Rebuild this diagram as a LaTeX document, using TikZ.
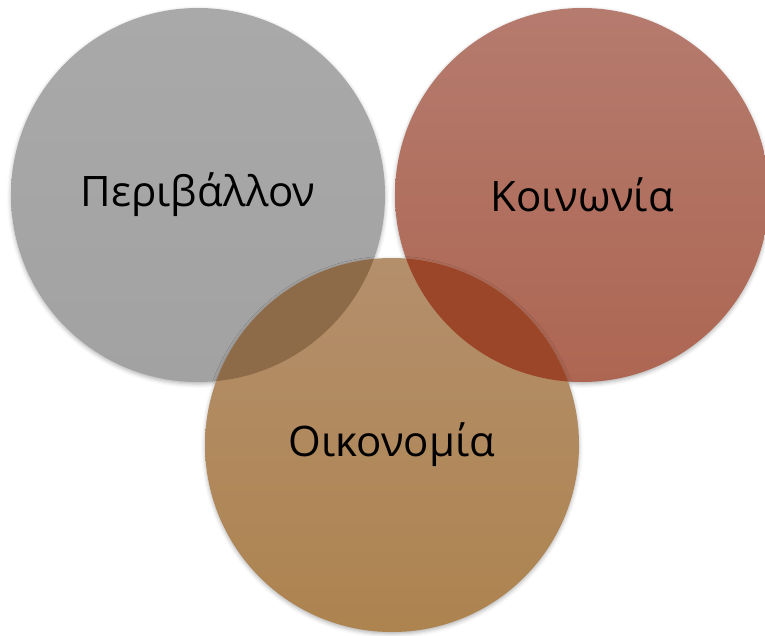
\documentclass[tikz,border=0pt]{standalone}
\usepackage{fontspec}
\setmainfont{Open Sans}
\usetikzlibrary{shadows.blur}
\definecolor{envtop}{HTML}{A9A9A9}
\definecolor{envbot}{HTML}{A2A2A2}
\definecolor{soctop}{HTML}{B57B6E}
\definecolor{socbot}{HTML}{AD6652}
\definecolor{ecotop}{HTML}{B48F6C}
\definecolor{ecobot}{HTML}{AD834F}
\definecolor{envxeco}{HTML}{8D6B48}
\definecolor{socxeco}{HTML}{9B4628}
\tikzset{
  bubble/.style = {circle, inner sep=0pt, minimum size=374pt, align=center,
    font=\fontsize{42}{50}\selectfont, text=black,
    blur shadow={shadow xshift=0pt, shadow yshift=-2pt, shadow blur radius=4pt, shadow opacity=30}},
  env/.style = {bubble, top color=envtop, bottom color=envbot},
  soc/.style = {bubble, top color=soctop, bottom color=socbot},
  eco/.style = {bubble, top color=ecotop, bottom color=ecobot}
}

\begin{document}
\begin{tikzpicture}[x=1pt, y=-1pt]
\useasboundingbox (0,0) rectangle (765,635);
\node [env] (E) at (198,195) {Περιβάλλον};
\node [soc] (S) at (582,195) {Κοινωνία};
\node [eco] (O) at (392,445) {Οικονομία};
% overlaps
\begin{scope}
  \clip (O.center) circle (187pt);
  \fill [envxeco] (E.center) circle (187pt);
  \fill [socxeco] (S.center) circle (187pt);
\end{scope}
\end{tikzpicture}
\end{document}
